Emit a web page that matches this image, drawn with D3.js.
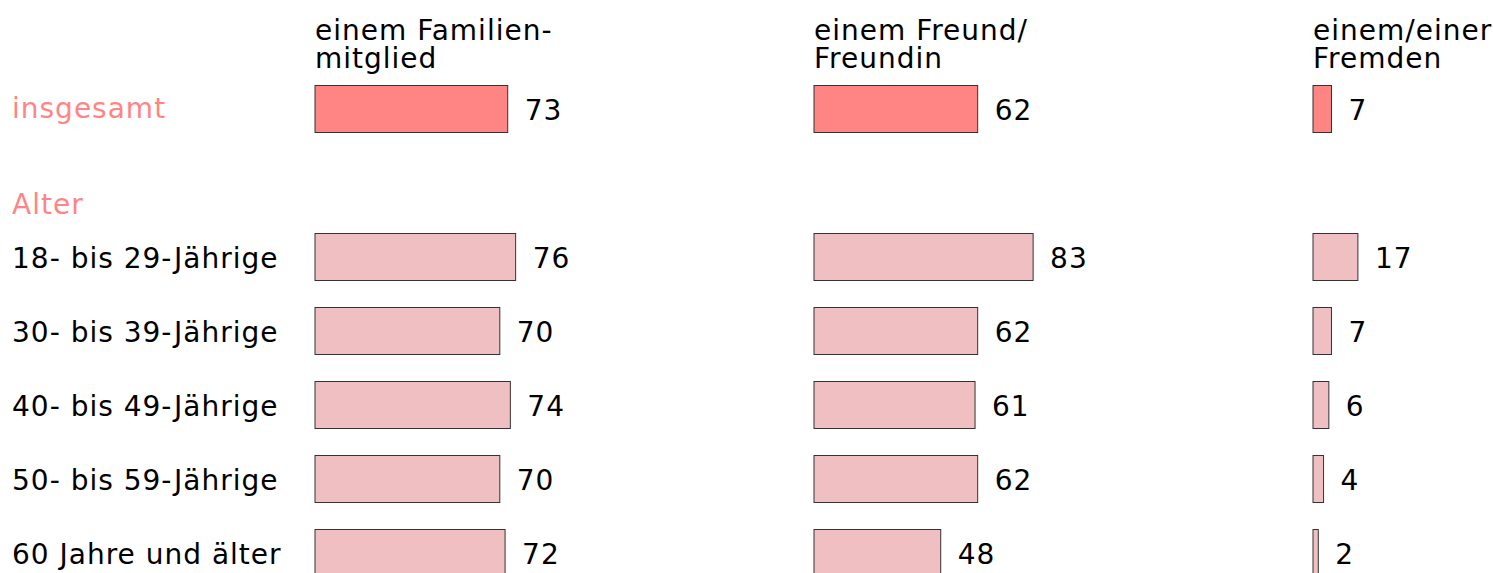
<!DOCTYPE html>
<html>
<head>
<meta charset="utf-8">
<script src="https://cdn.jsdelivr.net/npm/d3@7"></script>
<style>
  body { margin: 0; background: #fff; }
  text { font-family: Verdana, "DejaVu Sans", sans-serif; letter-spacing: 1px; }
</style>
</head>
<body>
<svg id="chart" width="1493" height="573"></svg>
<script>
// column headers (two lines each)
var columns = [
  ["einem Familien-", "mitglied"],
  ["einem Freund/", "Freundin"],
  ["einem/einer", "Fremden"]
];
var rowLabels = ["insgesamt", "18- bis 29-Jährige", "30- bis 39-Jährige",
                 "40- bis 49-Jährige", "50- bis 59-Jährige", "60 Jahre und älter"];
var groupLabel = "Alter";
var familie = [73, 76, 70, 74, 70, 72];
var freund = [62, 83, 62, 61, 62, 48];
var fremde = [7, 17, 7, 6, 4, 2];
var series = [familie, freund, fremde];

var width = 1493, height = 573;
var svg = d3.select("#chart");

// slots: first row, then group header, then age rows
var slots = [rowLabels[0], groupLabel].concat(rowLabels.slice(1));
var y = d3.scaleBand()
    .domain(slots)
    .range([85.5, 85.5 + 74 * slots.length - 27])
    .paddingInner(27 / 74)
    .paddingOuter(0);

var x = d3.scaleLinear().domain([0, 100]).range([0, 264]);
var colX = d3.scalePoint().domain(d3.range(columns.length)).range([315, 1313]);

var accent = "#ff8585";
var fillTotal = "#ff8484", fillAge = "#f0bfc2";

// row labels
svg.selectAll("text.row")
  .data(slots)
  .enter().append("text")
    .attr("class", "row")
    .attr("x", 12)
    .attr("y", function(d, i){
      // the group header sits lower, close to its first row
      if (d === groupLabel) return y(d) + y.bandwidth()/2 + 31;
      return y(d) + y.bandwidth()/2 + (i === 0 ? 9 : 11);
    })
    .attr("font-size", 28)
    .attr("fill", function(d, i){ return i < 2 ? accent : "#000"; })
    .text(function(d){ return d; });

columns.forEach(function(col, c){
  var g = svg.append("g").attr("transform", "translate(" + colX(c) + ",0)");

  g.selectAll("text.head")
    .data(col)
    .enter().append("text")
      .attr("class", "head")
      .attr("x", 0)
      .attr("y", function(d, i){ return 40 + i * 28; })
      .attr("font-size", 28)
      .attr("fill", "#000")
      .text(function(d){ return d; });

  var vals = series[c];
  g.selectAll("rect")
    .data(vals)
    .enter().append("rect")
      .attr("x", 0)
      .attr("y", function(d, i){ return y(rowLabels[i]); })
      .attr("width", function(d){ return x(d); })
      .attr("height", y.bandwidth())
      .attr("fill", function(d, i){ return i === 0 ? fillTotal : fillAge; })
      .attr("stroke", "#333")
      .attr("stroke-width", 1);

  g.selectAll("text.val")
    .data(vals)
    .enter().append("text")
      .attr("class", "val")
      .attr("x", function(d){ return x(d) + 17; })
      .attr("y", function(d, i){ return y(rowLabels[i]) + y.bandwidth()/2 + 11; })
      .attr("font-size", 28)
      .attr("fill", "#000")
      .text(function(d){ return d; });
});
</script>
</body>
</html>
